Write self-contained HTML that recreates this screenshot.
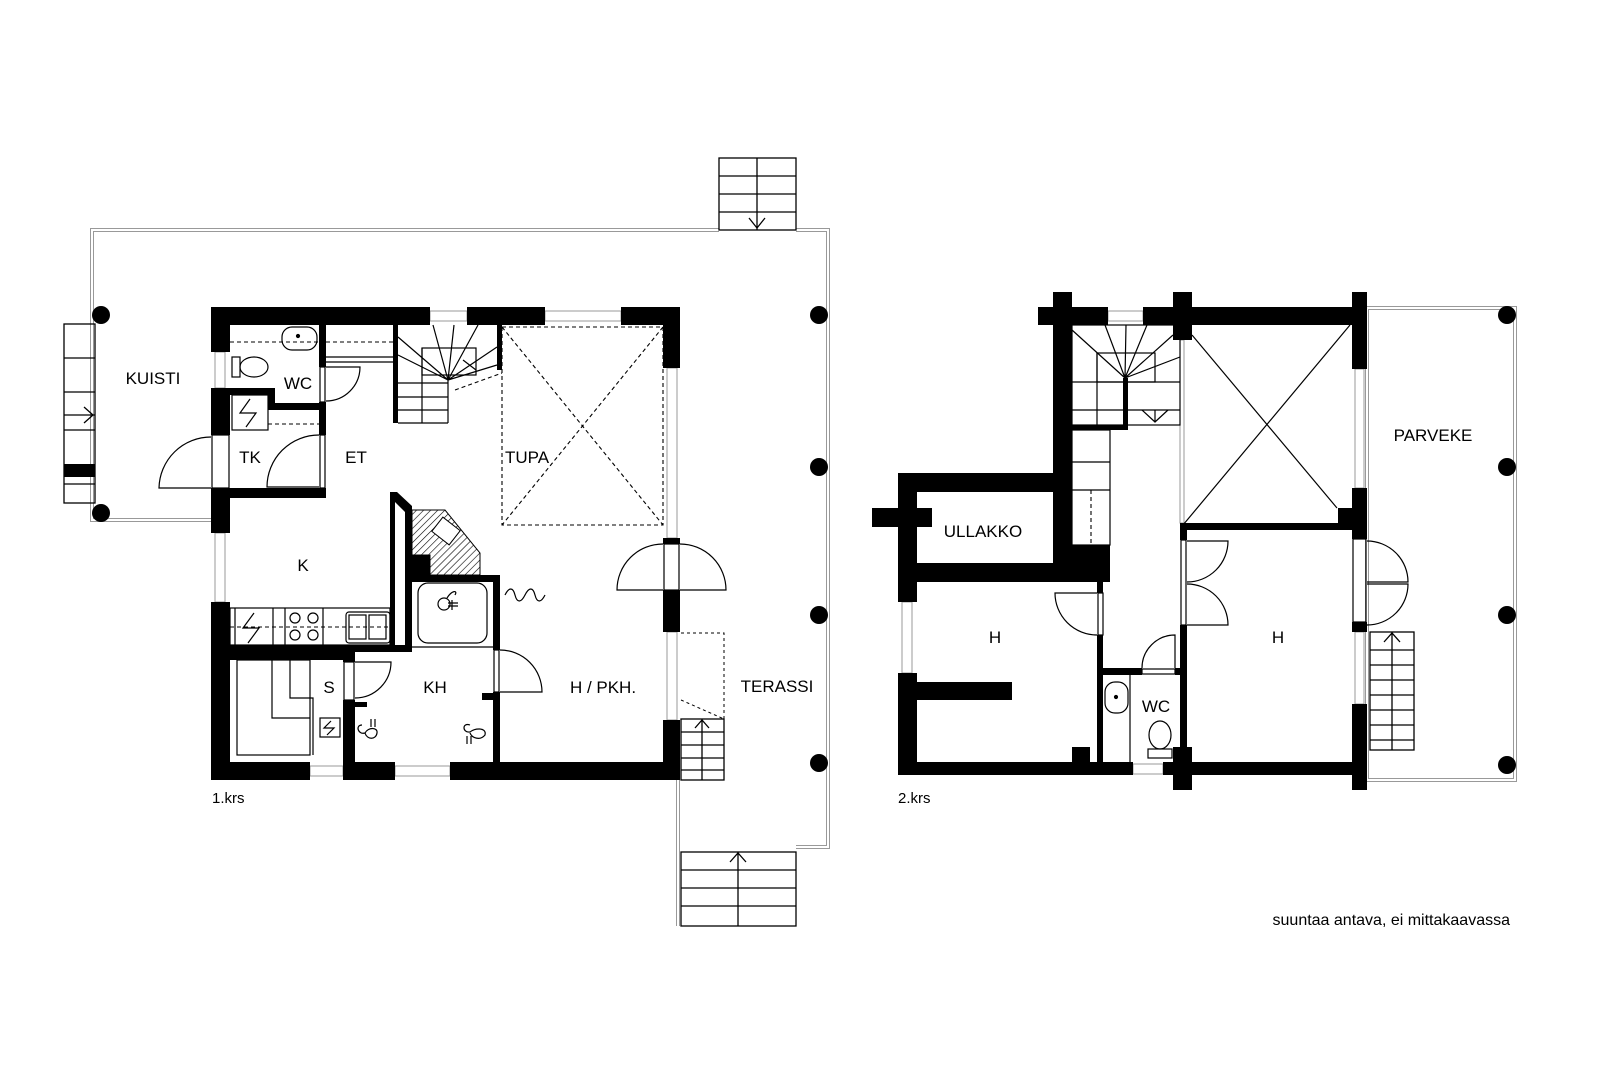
<!DOCTYPE html>
<html><head><meta charset="utf-8"><style>
html,body{margin:0;padding:0;background:#fff}
svg{display:block}
text{font-family:"Liberation Sans",sans-serif;font-size:17px;fill:#000}
</style></head><body>
<svg width="1600" height="1067" viewBox="0 0 1600 1067" xmlns="http://www.w3.org/2000/svg">
<defs>
<pattern id="h" width="5" height="5" patternUnits="userSpaceOnUse" patternTransform="rotate(45)"><line x1="0" y1="0" x2="0" y2="5" stroke="#000" stroke-width="1.2"/></pattern>
</defs>
<rect width="1600" height="1067" fill="#fff"/>

<g fill="none" stroke-linejoin="miter">
<polyline points="211,520 92,520 92,230 719,230" stroke="#999" stroke-width="4"/>
<polyline points="211,520 92,520 92,230 719,230" stroke="#fff" stroke-width="2"/>
<polyline points="796,230 828,230 828,847 796,847" stroke="#999" stroke-width="4"/>
<polyline points="796,230 828,230 828,847 796,847" stroke="#fff" stroke-width="2"/>
<polyline points="678,780 678,926" stroke="#999" stroke-width="4"/>
<polyline points="678,780 678,926" stroke="#fff" stroke-width="2"/>
<rect x="1367" y="308" width="148" height="472" stroke="#999" stroke-width="4"/>
<rect x="1367" y="308" width="148" height="472" stroke="#fff" stroke-width="2"/>
</g>

<g fill="none" stroke="#000" stroke-width="1.3">
<rect x="719" y="158" width="77" height="72"/>
<line x1="719" y1="176" x2="796" y2="176"/><line x1="719" y1="194" x2="796" y2="194"/><line x1="719" y1="212" x2="796" y2="212"/>
<line x1="757" y1="158" x2="757" y2="230"/><polyline points="749,218 757,228 765,218"/>
<rect x="681" y="852" width="115" height="74"/>
<line x1="681" y1="870" x2="796" y2="870"/><line x1="681" y1="888" x2="796" y2="888"/><line x1="681" y1="906" x2="796" y2="906"/>
<line x1="738" y1="852" x2="738" y2="926"/><polyline points="730,862 738,853 746,862"/>
<rect x="64" y="324" width="31" height="179"/>
<line x1="64" y1="358" x2="95" y2="358"/><line x1="64" y1="392" x2="95" y2="392"/><line x1="64" y1="430" x2="95" y2="430"/><line x1="64" y1="484" x2="95" y2="484"/>
<line x1="64" y1="415" x2="95" y2="415"/><polyline points="84,407 93,415 84,423"/>
<rect x="681" y="719" width="43" height="61"/>
<line x1="681" y1="732" x2="724" y2="732"/><line x1="681" y1="745" x2="724" y2="745"/><line x1="681" y1="758" x2="724" y2="758"/><line x1="681" y1="770" x2="724" y2="770"/>
<line x1="702" y1="719" x2="702" y2="780"/><polyline points="695,728 702,720 709,728"/>
<rect x="1370" y="632" width="44" height="118"/>
<line x1="1370" y1="650" x2="1414" y2="650"/><line x1="1370" y1="665" x2="1414" y2="665"/><line x1="1370" y1="680" x2="1414" y2="680"/><line x1="1370" y1="695" x2="1414" y2="695"/><line x1="1370" y1="710" x2="1414" y2="710"/><line x1="1370" y1="725" x2="1414" y2="725"/><line x1="1370" y1="740" x2="1414" y2="740"/>
<line x1="1392" y1="632" x2="1392" y2="750"/><polyline points="1384,642 1392,633 1400,642"/>
</g>
<path d="M681,633 H724 V719" fill="none" stroke="#000" stroke-width="1" stroke-dasharray="3,3"/>
<line x1="681" y1="700" x2="724" y2="719" stroke="#000" stroke-width="1" stroke-dasharray="3,3"/>
<rect x="64" y="464" width="31" height="13" fill="#000"/>

<g fill="#000">
<circle cx="101" cy="315" r="9"/><circle cx="101" cy="513" r="9"/>
<circle cx="819" cy="315" r="9"/><circle cx="819" cy="467" r="9"/><circle cx="819" cy="615" r="9"/><circle cx="819" cy="763" r="9"/>
<circle cx="1507" cy="315" r="9"/><circle cx="1507" cy="467" r="9"/><circle cx="1507" cy="615" r="9"/><circle cx="1507" cy="765" r="9"/>
</g>

<g fill="#fff" stroke="#999" stroke-width="1">
<rect x="430" y="311" width="37" height="10"/><rect x="545" y="311" width="76" height="10"/>
<rect x="215" y="352" width="10" height="36"/><rect x="215" y="533" width="10" height="69"/>
<rect x="667" y="368" width="10" height="170"/><rect x="667" y="632" width="10" height="88"/>
<rect x="310" y="766" width="33" height="10"/><rect x="395" y="766" width="55" height="10"/>
<rect x="1108" y="311" width="35" height="10"/><rect x="902" y="602" width="10" height="71"/>
<rect x="1133" y="764" width="30" height="10"/>
<rect x="1355" y="369" width="9" height="119"/><rect x="1355" y="632" width="9" height="72"/>
<rect x="1180" y="340" width="4" height="183"/>
</g>

<g fill="#000">
<rect x="211" y="307" width="19" height="45"/><rect x="211" y="388" width="19" height="47"/>
<rect x="211" y="488" width="19" height="45"/><rect x="211" y="602" width="19" height="178"/>
<rect x="211" y="307" width="219" height="18"/><rect x="467" y="307" width="78" height="18"/><rect x="621" y="307" width="59" height="18"/>
<rect x="663" y="307" width="17" height="61"/><rect x="663" y="538" width="17" height="6"/><rect x="663" y="590" width="17" height="42"/><rect x="663" y="720" width="17" height="60"/>
<rect x="211" y="762" width="99" height="18"/><rect x="343" y="762" width="52" height="18"/><rect x="450" y="762" width="230" height="18"/>
<rect x="319" y="325" width="7" height="42"/><rect x="319" y="402" width="7" height="33"/><rect x="319" y="488" width="7" height="10"/>
<rect x="211" y="488" width="115" height="10"/>
<rect x="230" y="388" width="45" height="7"/><rect x="268" y="388" width="7" height="22"/><rect x="268" y="403" width="58" height="7"/>
<polygon points="390,492 397,492 412,506 412,652 405,652 405,512 395,502 395,645 390,645"/>
<rect x="211" y="645" width="144" height="15"/><rect x="355" y="645" width="57" height="7"/>
<rect x="343" y="652" width="12" height="10"/><rect x="343" y="700" width="12" height="62"/><rect x="355" y="702" width="12" height="5"/>
<rect x="412" y="555" width="18" height="25"/><rect x="412" y="575" width="88" height="7"/>
<rect x="493" y="575" width="7" height="75"/><rect x="493" y="692" width="7" height="70"/><rect x="482" y="693" width="11" height="7"/>
<rect x="393" y="325" width="5" height="98"/><rect x="497" y="325" width="5" height="45"/>
</g>
<polygon points="412,510 445,510 480,553 480,575 430,575 430,555 412,555" fill="url(#h)" stroke="#000" stroke-width="1"/>
<rect x="435" y="522" width="22" height="18" transform="rotate(38 446 531)" fill="#fff" stroke="#000" stroke-width="1"/>

<g fill="none" stroke="#000" stroke-width="1.2">
<rect x="320" y="367" width="5" height="35"/><rect x="320" y="435" width="5" height="53"/>
<rect x="344" y="662" width="10" height="38"/><rect x="494" y="650" width="5" height="42"/>
<rect x="212" y="435" width="17" height="53"/><rect x="664" y="544" width="15" height="46"/>
<path d="M326,367 H360 A34,34 0 0 1 326,401"/>
<path d="M319,435 A52,52 0 0 0 267,487 H319"/>
<path d="M211,437 A52,52 0 0 0 159,488 H211"/>
<path d="M355,662 H391 A36,36 0 0 1 355,698"/>
<path d="M500,650 A42,42 0 0 1 542,692 H500"/>
<path d="M663,590 H617 A46,46 0 0 1 663,544"/>
<path d="M680,544 A46,46 0 0 1 726,590 H680"/>
<line x1="398" y1="383" x2="448" y2="383"/><line x1="398" y1="397" x2="448" y2="397"/><line x1="398" y1="410" x2="448" y2="410"/>
<line x1="398" y1="423" x2="448" y2="423"/>
<line x1="422" y1="348" x2="422" y2="423"/><line x1="448" y1="380" x2="448" y2="423"/>
<rect x="422" y="348" width="54" height="27"/>
<path d="M448,380 L398,355 M448,380 L398,337 M448,380 L433,325 M448,380 L454,325 M448,380 L478,325 M448,380 L497,347 M448,380 L497,365 M463,360 L476,370"/>
<rect x="282" y="327" width="35" height="23" rx="10"/><circle cx="298" cy="336" r="1.5" fill="#000"/>
<rect x="232" y="357" width="8" height="20"/><ellipse cx="254" cy="367" rx="14" ry="10"/>
<rect x="232" y="395" width="36" height="35"/><path d="M250,399 L240,413 L256,413 L246,427"/>
<rect x="230" y="608" width="160" height="37"/>
<line x1="235" y1="608" x2="235" y2="645"/><line x1="273" y1="608" x2="273" y2="645"/><line x1="285" y1="608" x2="285" y2="645"/><line x1="323" y1="608" x2="323" y2="645"/>
<path d="M254,613 L243,628 L259,628 L248,643"/>
<circle cx="295" cy="618" r="5"/><circle cx="313" cy="618" r="5"/><circle cx="295" cy="635" r="5"/><circle cx="313" cy="635" r="5"/>
<rect x="346" y="612" width="44" height="31" rx="3"/><rect x="349" y="615" width="17" height="24"/><rect x="369" y="615" width="17" height="24"/>
<rect x="418" y="583" width="69" height="60" rx="10"/><line x1="412" y1="647" x2="493" y2="647"/>
<circle cx="444" cy="604" r="6"/><path d="M447,598 C452,590 458,590 455,595 M452,600 V610 M448,603 H458 M448,606 H458"/>
<rect x="237" y="660" width="73" height="95"/><path d="M272,660 V718 H310 M290,660 V698 H313 V755"/>
<rect x="320" y="718" width="20" height="19"/><path d="M331,721 L324,728 L334,728 L327,735"/>
<path d="M362,725 C355,725 358,735 365,733 C368,727 378,727 377,733 C376,740 367,740 365,733 M371,719 V727 M375,719 V727"/>
<path d="M470,725 C462,722 462,733 470,732 C474,728 487,727 485,735 C480,741 472,738 470,733 M467,736 V744 M471,736 V744"/>
<path d="M505,595 c4,-8 8,-8 10,0 c2,8 6,8 10,0 c4,-8 8,-8 10,0 c2,8 6,8 10,0"/>
</g>
<g fill="none" stroke="#000" stroke-width="1.1" stroke-dasharray="4,3">
<line x1="230" y1="342" x2="319" y2="342"/><line x1="326" y1="342" x2="393" y2="342"/>
<line x1="268" y1="424" x2="319" y2="424"/><line x1="230" y1="627" x2="390" y2="627"/>
<line x1="455" y1="390" x2="502" y2="373"/>
<rect x="502" y="327" width="161" height="198"/>
<line x1="502" y1="327" x2="663" y2="525"/><line x1="663" y1="327" x2="502" y2="525"/>
</g>
<g fill="none" stroke="#000" stroke-width="1.2">
<line x1="326" y1="357" x2="393" y2="357"/><line x1="326" y1="362" x2="393" y2="362"/>
</g>

<g fill="#000">
<rect x="1038" y="307" width="70" height="18"/><rect x="1143" y="307" width="224" height="18"/>
<rect x="1053" y="292" width="19" height="290"/><rect x="1173" y="292" width="19" height="48"/>
<rect x="1352" y="292" width="15" height="77"/><rect x="1352" y="488" width="15" height="51"/><rect x="1338" y="508" width="29" height="22"/>
<rect x="1352" y="622" width="15" height="10"/><rect x="1352" y="704" width="15" height="86"/>
<rect x="1187" y="523" width="165" height="7"/>
<rect x="898" y="473" width="19" height="129"/><rect x="898" y="473" width="155" height="19"/>
<rect x="898" y="563" width="212" height="19"/><rect x="872" y="508" width="60" height="19"/><rect x="1072" y="545" width="38" height="37"/>
<rect x="898" y="673" width="19" height="102"/><rect x="917" y="682" width="95" height="18"/>
<rect x="898" y="762" width="235" height="13"/><rect x="1163" y="762" width="204" height="13"/>
<rect x="1072" y="747" width="18" height="15"/><rect x="1173" y="747" width="19" height="43"/>
<rect x="1097" y="582" width="6" height="11"/><rect x="1097" y="635" width="6" height="127"/>
<rect x="1180" y="523" width="7" height="17"/><rect x="1180" y="625" width="7" height="137"/>
<rect x="1103" y="668" width="39" height="7"/><rect x="1175" y="668" width="5" height="7"/>
<rect x="1123" y="378" width="5" height="52"/><rect x="1072" y="425" width="56" height="5"/>
</g>
<g fill="none" stroke="#000" stroke-width="1.2">
<rect x="1072" y="325" width="108" height="100"/>
<line x1="1072" y1="382" x2="1180" y2="382"/><line x1="1072" y1="410" x2="1180" y2="410"/>
<line x1="1097" y1="353" x2="1097" y2="425"/><rect x="1097" y="353" width="58" height="29"/>
<path d="M1125,378 L1072,330 M1125,378 L1105,325 M1125,378 L1126,325 M1125,378 L1147,325 M1125,378 L1173,335 M1125,378 L1180,357 M1142,410 L1155,422 L1168,410 M1155,410 V422"/>
<rect x="1072" y="430" width="38" height="115"/><line x1="1072" y1="462" x2="1110" y2="462"/><line x1="1072" y1="490" x2="1110" y2="490"/>
<line x1="1192" y1="335" x2="1337" y2="508"/><line x1="1350" y1="325" x2="1183" y2="525"/>
<rect x="1098" y="593" width="5" height="42"/><path d="M1097,593 H1055 A42,42 0 0 0 1097,635"/>
<rect x="1142" y="669" width="33" height="5"/><path d="M1175,668 V635 A33,33 0 0 0 1142,668"/>
<rect x="1181" y="540" width="5" height="85"/>
<path d="M1187,541 H1228 A41,41 0 0 1 1187,582"/><path d="M1187,584 A41,41 0 0 1 1228,625 H1187"/>
<rect x="1353" y="539" width="13" height="83"/>
<path d="M1367,541 A41,41 0 0 1 1408,582 H1367"/><path d="M1367,584 H1408 A41,41 0 0 1 1367,625"/>
<line x1="1130" y1="675" x2="1130" y2="762"/>
<rect x="1105" y="682" width="23" height="31" rx="10"/><circle cx="1116" cy="697" r="1.5" fill="#000"/>
<ellipse cx="1160" cy="735" rx="11" ry="14"/><rect x="1148" y="749" width="24" height="9"/>
</g>
<line x1="1091" y1="490" x2="1091" y2="545" stroke="#000" stroke-width="1.1" stroke-dasharray="4,3"/>

<text x="153" y="384" text-anchor="middle">KUISTI</text>
<text x="298" y="389" text-anchor="middle">WC</text>
<text x="250" y="463" text-anchor="middle">TK</text>
<text x="356" y="463" text-anchor="middle">ET</text>
<text x="527" y="463" text-anchor="middle">TUPA</text>
<text x="303" y="571" text-anchor="middle">K</text>
<text x="329" y="693" text-anchor="middle">S</text>
<text x="435" y="693" text-anchor="middle">KH</text>
<text x="603" y="693" text-anchor="middle">H / PKH.</text>
<text x="777" y="692" text-anchor="middle">TERASSI</text>
<text x="212" y="803" style="font-size:15px">1.krs</text>
<text x="898" y="803" style="font-size:15px">2.krs</text>
<text x="1433" y="441" text-anchor="middle">PARVEKE</text>
<text x="983" y="537" text-anchor="middle">ULLAKKO</text>
<text x="995" y="643" text-anchor="middle">H</text>
<text x="1278" y="643" text-anchor="middle">H</text>
<text x="1156" y="712" text-anchor="middle">WC</text>
<text x="1510" y="925" text-anchor="end" style="font-size:16px">suuntaa antava, ei mittakaavassa</text>
</svg>
</body></html>
